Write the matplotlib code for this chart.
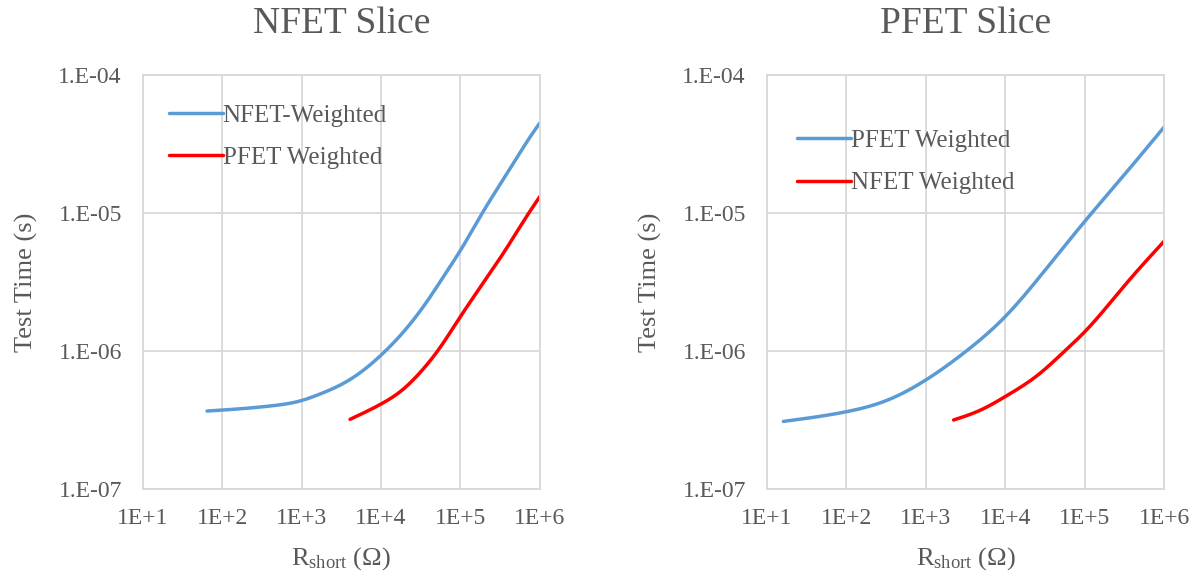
import numpy as np
import matplotlib
matplotlib.use("Agg")
import matplotlib.pyplot as plt
from matplotlib.ticker import FixedLocator, NullLocator

plt.rcParams['font.family'] = ['Liberation Serif', 'DejaVu Serif']
plt.rcParams['mathtext.fontset'] = 'custom'
plt.rcParams['mathtext.rm'] = 'Liberation Serif'
plt.rcParams['mathtext.it'] = 'Liberation Serif:italic'

# ---- data (log10 values) ----
nf_blue_lx = [1.81, 2.0, 2.64, 2.98, 3.23, 3.60, 4.0, 4.24, 4.57, 4.82, 5.0, 5.28, 5.6, 5.91, 6.0]
nf_blue_ly = [-6.435, -6.428, -6.396, -6.362, -6.312, -6.21, -6.03, -5.889, -5.648, -5.431, -5.27, -4.995, -4.70, -4.42, -4.346]
nf_red_lx = [3.61, 4.0, 4.24, 4.49, 4.74, 5.0, 5.33, 5.58, 5.86, 6.0]
nf_red_ly = [-6.495, -6.384, -6.295, -6.157, -5.977, -5.75, -5.47, -5.255, -5.0, -4.88]

pf_blue_lx = [1.21, 2.0, 2.5, 3.0, 3.51, 4.0, 4.52, 5.0, 5.53, 6.0]
pf_blue_ly = [-6.51, -6.44, -6.36, -6.21, -6.0, -5.75, -5.40, -5.06, -4.70, -4.375]
pf_red_lx = [3.35, 3.7, 4.0, 4.44, 4.72, 5.0, 5.53, 6.0]
pf_red_ly = [-6.5, -6.425, -6.33, -6.16, -6.015, -5.86, -5.505, -5.203]

x_ticks = [1e1, 1e2, 1e3, 1e4, 1e5, 1e6]
x_labels = ["1E+1", "1E+2", "1E+3", "1E+4", "1E+5", "1E+6"]
y_ticks = [1e-7, 1e-6, 1e-5, 1e-4]
y_labels = ["1.E-07", "1.E-06", "1.E-05", "1.E-04"]

titles = ["NFET Slice", "PFET Slice"]
left_labels = ["NFET-Weighted", "PFET Weighted"]
right_labels = ["PFET Weighted", "NFET Weighted"]

BLUE = "#5B9BD5"
RED = "#FF0000"
GRID = "#D9D9D9"
TXT = "#595959"


def spline(lx, ly, n=400):
    """Natural cubic spline through the read points (in log-log space)."""
    x = np.asarray(lx, float); y = np.asarray(ly, float)
    N = len(x); h = np.diff(x)
    A = np.zeros((N, N)); b = np.zeros(N)
    A[0, 0] = 1; A[-1, -1] = 1
    for i in range(1, N - 1):
        A[i, i - 1] = h[i - 1]; A[i, i] = 2 * (h[i - 1] + h[i]); A[i, i + 1] = h[i]
        b[i] = 6 * ((y[i + 1] - y[i]) / h[i] - (y[i] - y[i - 1]) / h[i - 1])
    M = np.linalg.solve(A, b)
    xs = np.linspace(x[0], x[-1], n)
    i = np.clip(np.searchsorted(x, xs) - 1, 0, N - 2)
    hi = h[i]; a = x[i + 1] - xs; c = xs - x[i]
    ys = (M[i] * a**3 / (6 * hi) + M[i + 1] * c**3 / (6 * hi)
          + (y[i] / hi - M[i] * hi / 6) * a + (y[i + 1] / hi - M[i + 1] * hi / 6) * c)
    return 10 ** xs, 10 ** ys


fig = plt.figure(figsize=(11.98, 5.79), dpi=100)
ax1 = fig.add_axes([0.1191, 0.1554, 0.3316, 0.715])
ax2 = fig.add_axes([0.6400, 0.1554, 0.3319, 0.715])


def style(ax, title):
    ax.set_xscale('log'); ax.set_yscale('log')
    ax.set_xlim(1e1, 1e6); ax.set_ylim(1e-7, 1e-4)
    ax.xaxis.set_major_locator(FixedLocator(x_ticks))
    ax.yaxis.set_major_locator(FixedLocator(y_ticks))
    ax.xaxis.set_minor_locator(NullLocator())
    ax.yaxis.set_minor_locator(NullLocator())
    ax.set_xticklabels(x_labels)
    ax.set_yticklabels(y_labels)
    ax.tick_params(length=0, labelsize=17, colors=TXT)
    ax.tick_params(axis='y', pad=15)
    ax.tick_params(axis='x', pad=14)
    ax.grid(True, color=GRID, linewidth=1.3)
    for s in ax.spines.values():
        s.set_color(GRID); s.set_linewidth(1.3)
    ax.set_axisbelow(True)
    ax.set_title(title, fontsize=27, color=TXT, pad=30)
    ax.set_ylabel("Test Time (s)", fontsize=19, color=TXT, labelpad=15)
    ax.set_xlabel(r"R$_{\mathrm{short}}$ ($\Omega$)", fontsize=19, color=TXT, labelpad=11)


style(ax1, titles[0])
style(ax2, titles[1])

x, y = spline(nf_blue_lx, nf_blue_ly)
ax1.plot(x, y, color=BLUE, lw=2.5, label=left_labels[0], solid_capstyle='round')
x, y = spline(nf_red_lx, nf_red_ly)
ax1.plot(x, y, color=RED, lw=2.5, label=left_labels[1], solid_capstyle='round')

x, y = spline(pf_blue_lx, pf_blue_ly)
ax2.plot(x, y, color=BLUE, lw=2.5, label=right_labels[0], solid_capstyle='round')
x, y = spline(pf_red_lx, pf_red_ly)
ax2.plot(x, y, color=RED, lw=2.5, label=right_labels[1], solid_capstyle='round')

leg_kw = dict(frameon=False, fontsize=18, handlelength=2.15, handletextpad=0.0,
              labelspacing=0.8, borderaxespad=0, borderpad=0)
leg1 = ax1.legend(loc='upper left', bbox_to_anchor=(0.066, 0.93), **leg_kw)
leg2 = ax2.legend(loc='upper left', bbox_to_anchor=(0.076, 0.869), **leg_kw)
for leg in (leg1, leg2):
    for t in leg.get_texts():
        t.set_color(TXT)

fig.savefig("out.png", dpi=100)
